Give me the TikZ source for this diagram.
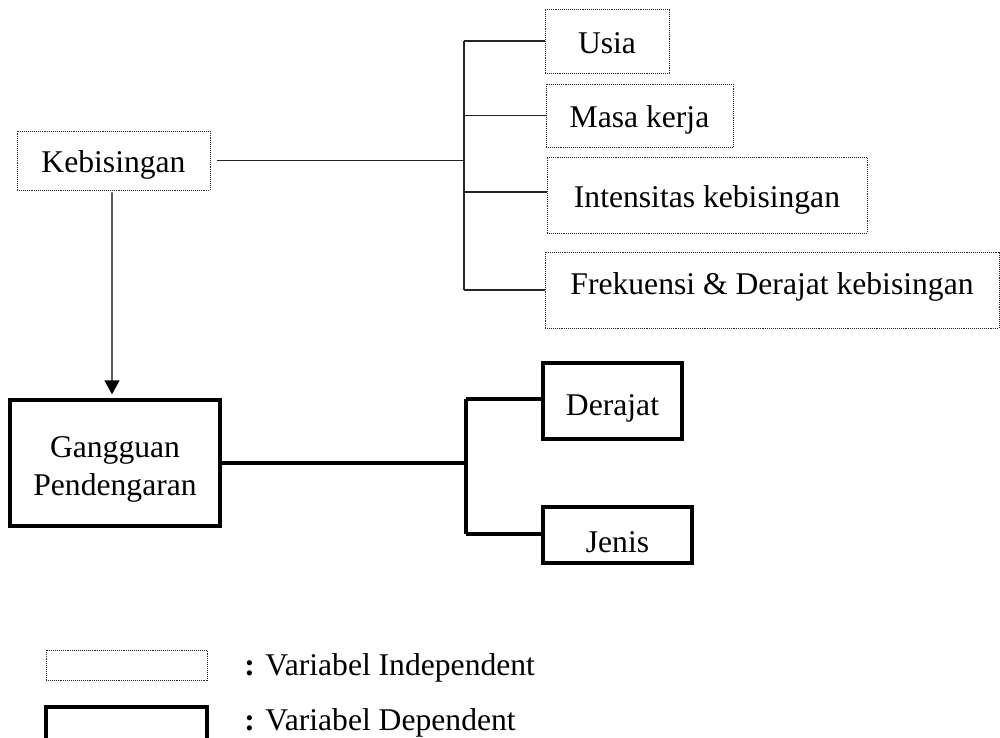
\documentclass[tikz,border=0pt]{standalone}
\usepackage{fontspec}
\setmainfont{Liberation Serif}
\usetikzlibrary{arrows.meta}
\begin{document}
\begin{tikzpicture}[x=0.02cm,y=-0.02cm,
  every node/.style={font=\fontsize{18}{21.6}\selectfont},
  indep/.style={draw=black!85,line width=0.5pt,dash pattern=on 0.55pt off 0.55pt,inner sep=0pt},
  dep/.style={draw=black,line width=1.9pt,inner sep=0pt},
  thinline/.style={draw=black!85,line width=0.6pt},
  thickline/.style={draw=black,line width=1.9pt},
  arrowline/.style={draw=black,line width=0.8pt,-{Triangle[length=0.28cm,width=0.3cm]}},
  shiftdown/.style={text height=12pt+#1*1.134pt,text depth=0pt}
]
\clip (0,0) rectangle (1000,737);
% independent variable boxes
\node[indep,shiftdown=1,minimum width=3.86cm,minimum height=1.18cm] (keb) at (113.5,160.5) {Kebisingan};
\node[indep,shiftdown=2,minimum width=2.48cm,minimum height=1.28cm] (usia) at (607,41) {Usia};
\node[indep,shiftdown=1.5,minimum width=3.74cm,minimum height=1.26cm] (masa) at (639.5,115.5) {Masa kerja};
\node[indep,shiftdown=2,minimum width=6.4cm,minimum height=1.52cm] (inten) at (707,195) {Intensitas kebisingan};
\node[indep,shiftdown=-6,minimum width=9.08cm,minimum height=1.52cm] (frek) at (772,290) {Frekuensi \& Derajat kebisingan};
% dependent boxes
\node[dep,text height=36.9pt,text depth=0pt,minimum width=4.2cm,minimum height=2.52cm] (gang) at (115,463)
  {\begin{tabular}[b]{@{}c@{}}Gangguan\\Pendengaran\end{tabular}};
\node[dep,shiftdown=4,minimum width=2.78cm,minimum height=1.52cm] (deraj) at (612.5,401) {Derajat};
\node[dep,shiftdown=7,minimum width=2.98cm,minimum height=1.12cm] (jenis) at (617.5,535) {Jenis};
% upper tree
\coordinate (tk) at (464,160.5);
\coordinate (ttop) at (464,41);
\coordinate (tbot) at (464,290);
\draw[thinline] ([xshift=0.14cm]keb.east) -- (tk);
\draw[thinline] (ttop) -- (tbot);
\draw[thinline] (ttop) -- (usia.west);
\draw[thinline] (tk |- masa.west) -- (masa.west);
\draw[thinline] (464,192) coordinate (ti) -- (ti -| inten.west);
\draw[thinline] (tbot) -- (frek.west);
% arrow
\draw[arrowline] ([xshift=-0.03cm,yshift=-0.04cm]keb.south) -- ([xshift=-0.06cm,yshift=0.08cm]gang.north);
% lower tree
\coordinate (dtop) at (466,399);
\coordinate (dbot) at (466,534);
\draw[thickline] (gang.east) -- (gang.east -| dtop);
\draw[thickline] (dtop) -- (dbot);
\draw[thickline] (dtop) -- (dtop -| deraj.west);
\draw[thickline] (dbot) -- (dbot -| jenis.west);
% legend
\node[indep,minimum width=3.22cm,minimum height=0.6cm] (lind) at (126.5,665) {};
\draw[thickline] (46,760) -- (46,707) -- (207,707) -- (207,760);
\node[anchor=base west,inner sep=0pt] (tind) at (244,675) {\textbf{:} Variabel Independent};
\node[anchor=base west,inner sep=0pt] (tdep) at (244,730) {\textbf{:} Variabel Dependent};
\end{tikzpicture}
\end{document}
